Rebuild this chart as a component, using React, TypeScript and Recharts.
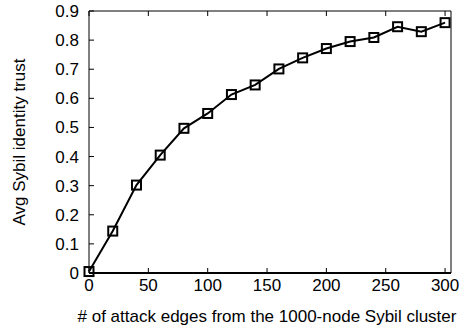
import React from "react";
import { LineChart, Line, XAxis, YAxis, Label } from "recharts";

const attackEdges = [0, 20, 40, 60, 80, 100, 120, 140, 160, 180, 200, 220, 240, 260, 280, 300];
const avgTrust = [0.005, 0.144, 0.302, 0.405, 0.497, 0.548, 0.613, 0.646, 0.701, 0.739, 0.771, 0.795, 0.809, 0.846, 0.829, 0.86];
const xTicks = [0, 50, 100, 150, 200, 250, 300];
const yTicks = [0, 0.1, 0.2, 0.3, 0.4, 0.5, 0.6, 0.7, 0.8, 0.9];

const data = attackEdges.map((x, i) => ({ x, trust: avgTrust[i] }));

const FONT = "'Liberation Sans', Arial, sans-serif";
const FONT_SIZE = 17;
const TICK_LEN = 5;

const BottomTick = (props: any) => {
  const { x, y, payload } = props;
  return (
    <g>
      <line x1={x} y1={y} x2={x} y2={y - TICK_LEN} stroke="#000" strokeWidth={1} />
      <text x={x} y={y + 18} textAnchor="middle" fontSize={FONT_SIZE} fontFamily={FONT} fill="#000">
        {payload.value}
      </text>
    </g>
  );
};

const TopTick = (props: any) => {
  const { x, y } = props;
  return <line x1={x} y1={y} x2={x} y2={y + TICK_LEN} stroke="#000" strokeWidth={1} />;
};

const LeftTick = (props: any) => {
  const { x, y, payload } = props;
  return (
    <g>
      <line x1={x} y1={y} x2={x + TICK_LEN} y2={y} stroke="#000" strokeWidth={1} />
      <text x={x - 10} y={y + 6} textAnchor="end" fontSize={FONT_SIZE} fontFamily={FONT} fill="#000">
        {payload.value}
      </text>
    </g>
  );
};

const RightTick = (props: any) => {
  const { x, y } = props;
  return <line x1={x} y1={y} x2={x - TICK_LEN} y2={y} stroke="#000" strokeWidth={1} />;
};

const SquareDot = (props: any) => {
  const { cx, cy } = props;
  if (cx == null || cy == null) return null;
  return <rect x={cx - 4.5} y={cy - 4.5} width={9} height={9} fill="none" stroke="#000" strokeWidth={2} />;
};

export default function App() {
  return (
    <div style={{ position: "absolute", left: 0, top: 0, background: "#fff" }}>
      <LineChart width={463} height={329} data={data} margin={{ top: 0, right: 0, bottom: 0, left: 0 }}>
        <XAxis
          xAxisId="bottom"
          dataKey="x"
          type="number"
          domain={[0, 305]}
          ticks={xTicks}
          height={56}
          tickSize={0}
          tickMargin={0}
          tickLine={false}
          axisLine={{ stroke: "#000", strokeWidth: 2 }}
          tick={<BottomTick />}
          interval={0}
        >
          <Label
            content={(p: any) => (
              <text x={267} y={p.viewBox.y + 49} textAnchor="middle" fontSize={FONT_SIZE} fontFamily={FONT} fill="#000">
                # of attack edges from the 1000-node Sybil cluster
              </text>
            )}
          />
        </XAxis>
        <XAxis
          xAxisId="top"
          orientation="top"
          dataKey="x"
          type="number"
          domain={[0, 305]}
          ticks={xTicks}
          height={11}
          tickSize={0}
          tickMargin={0}
          tickLine={false}
          axisLine={{ stroke: "#000", strokeWidth: 1 }}
          tick={<TopTick />}
          interval={0}
        />
        <YAxis
          yAxisId="left"
          type="number"
          domain={[0, 0.9]}
          ticks={yTicks}
          width={89}
          tickSize={0}
          tickMargin={0}
          tickLine={false}
          axisLine={{ stroke: "#000", strokeWidth: 1 }}
          tick={<LeftTick />}
          interval={0}
        >
          <Label
            content={(p: any) => {
              const cx = 25;
              const cy = p.viewBox.y + p.viewBox.height / 2;
              return (
                <text
                  x={cx}
                  y={cy}
                  transform={`rotate(-90 ${cx} ${cy})`}
                  textAnchor="middle"
                  fontSize={FONT_SIZE}
                  fontFamily={FONT}
                  fill="#000"
                >
                  Avg Sybil identity trust
                </text>
              );
            }}
          />
        </YAxis>
        <YAxis
          yAxisId="right"
          orientation="right"
          type="number"
          domain={[0, 0.9]}
          ticks={yTicks}
          width={12}
          tickSize={0}
          tickMargin={0}
          tickLine={false}
          axisLine={{ stroke: "#000", strokeWidth: 1 }}
          tick={<RightTick />}
          interval={0}
        />
        <Line
          xAxisId="bottom"
          yAxisId="left"
          dataKey="trust"
          type="linear"
          stroke="#000"
          strokeWidth={2}
          dot={<SquareDot />}
          activeDot={false}
          isAnimationActive={false}
        />
      </LineChart>
    </div>
  );
}
